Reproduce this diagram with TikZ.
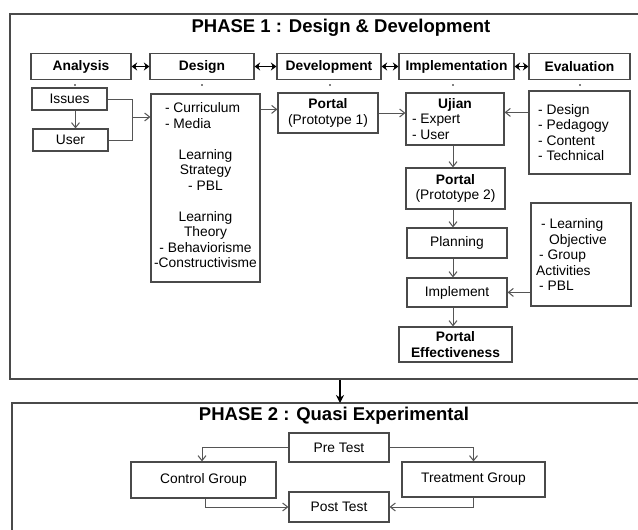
\documentclass[tikz,border=0pt]{standalone}
\usepackage{fontspec}
\setmainfont{Liberation Sans}
\usetikzlibrary{arrows.meta}
\definecolor{ln}{HTML}{4A4A4A}
\definecolor{ar}{HTML}{555555}
\tikzset{
  box/.style={draw=ln, line width=1.2pt, inner sep=0pt, align=center,
    font=\fontsize{13.8}{15.5}\selectfont},
  bbox/.style={box, font=\fontsize{13.8}{15.5}\selectfont\bfseries},
  txt/.style={inner sep=0pt, font=\fontsize{13.8}{15.5}\selectfont},
  frame/.style={draw=ln, line width=1.6pt},
  arr/.style={draw=ar, line width=1pt, -{Straight Barb[length=5pt,width=8pt]}},
  plain/.style={draw=ar, line width=1pt},
  dbl/.style={draw=black, line width=1.8pt, {Stealth[length=5.5pt,width=8pt]}-{Stealth[length=5.5pt,width=8pt]}},
  bigarr/.style={draw=black, line width=1.8pt, -{Stealth[length=8pt,width=8pt]}},
  ttl/.style={inner sep=0pt, font=\fontsize{18.5}{22}\selectfont\bfseries},
  dotm/.style={fill=black, inner sep=0pt, minimum size=1.6pt, circle},
}
\begin{document}
\begin{tikzpicture}[x=1pt,y=-1pt]
\useasboundingbox (0,0) rectangle (638,530);
\clip (0,0) rectangle (638,530);
\fill[white] (0,0) rectangle (638,530);

% frames
\coordinate (f1a) at (645,14);
\coordinate (f1b) at (10,14);
\coordinate (f1c) at (10,379);
\coordinate (f1d) at (645,379);
\draw[frame] (f1a) -- (f1b) -- (f1c) -- (f1d);
\coordinate (f2a) at (645,403);
\coordinate (f2b) at (12,403);
\coordinate (f2c) at (12,540);
\draw[frame] (f2a) -- (f2b) -- (f2c);

\node[ttl] (t1) at (341,28) {PHASE 1 : Design \& Development};
\node[ttl] (t2) at (334,416) {PHASE 2 : Quasi Experimental};

% top row
\node[bbox, minimum width=100pt, minimum height=26pt] (ana) at (81,66.5) {Analysis};
\node[bbox, minimum width=104pt, minimum height=26pt] (des) at (202,66.5) {Design};
\node[bbox, minimum width=104pt, minimum height=26pt] (dev) at (329,66.5) {Development};
\node[bbox, minimum width=115pt, minimum height=26pt] (imp) at (456.5,66.5) {Implementation};
\node[bbox, minimum width=101pt, minimum height=26pt] (eva) at (579.5,66.5) {Evaluation};
\draw[dbl] (ana.east) -- (des.west);
\draw[dbl] (des.east) -- (dev.west);
\draw[dbl] (dev.east) -- (imp.west);
\draw[dbl] (imp.east) -- (eva.west);

\node[dotm] (d1) at (75,85) {};
\node[dotm] (d2) at (202,85) {};
\node[dotm] (d3) at (330,85) {};
\node[dotm] (d4) at (453,85) {};
\node[dotm] (d5) at (580,85) {};

% analysis column
\node[box, minimum width=75pt, minimum height=22pt] (iss) at (69.5,99) {Issues};
\node[box, minimum width=75pt, minimum height=22pt] (usr) at (70.5,140) {User};
\draw[arr] ([xshift=6pt]iss.south) -- ([xshift=5pt]usr.north);
\draw[plain] (iss.east) -- ++(25,0) |- (usr.east);
\coordinate (bm) at (132,117);

% design list
\node[box, minimum width=109pt, minimum height=188pt] (dlist) at (205.5,188) {};
\node[txt, align=center] (dtxt) at (205.5,185.5) {\makebox[81pt][l]{- Curriculum}\\\makebox[81pt][l]{- Media}\\[15.5pt]Learning\\Strategy\\- PBL\\[15.5pt]Learning\\Theory\\- Behaviorisme\\-Constructivisme};
\draw[arr] (bm) -- (bm -| dlist.west);

% development
\node[box, minimum width=100pt, minimum height=40pt] (p1) at (328,113) {\textbf{Portal}\\(Prototype 1)};
\coordinate (dl1) at ([yshift=-16pt]dlist.north east);
\draw[arr] (dl1) -- (dl1 -| p1.west);

% implementation column
\node[box, minimum width=98pt, minimum height=52pt] (uji) at (455,119) {\textbf{Ujian}\\\makebox[86pt][l]{- Expert}\\\makebox[86pt][l]{- User}};
\draw[arr] (p1.east) -- (p1.east -| uji.west);
\node[box, minimum width=99pt, minimum height=41pt] (p2) at (455.5,188.5) {\textbf{Portal}\\(Prototype 2)};
\node[box, minimum width=100pt, minimum height=30pt] (plan) at (457,243) {Planning};
\node[box, minimum width=100pt, minimum height=29pt] (impl) at (457,292.5) {Implement};
\node[bbox, minimum width=113pt, minimum height=35pt] (eff) at (455.5,344.5) {Portal\\Effectiveness};
\coordinate (vx) at (453,0);
\draw[arr] (uji.south -| vx) -- (p2.north -| vx);
\draw[arr] (p2.south -| vx) -- (plan.north -| vx);
\draw[arr] (plan.south -| vx) -- (impl.north -| vx);
\draw[arr] (impl.south -| vx) -- (eff.north -| vx);

% evaluation list
\node[box, minimum width=101pt, minimum height=83pt] (elist) at (579.5,132.5) {};
\node[txt, align=left, anchor=west] (etxt) at (538,132.5) {- Design\\- Pedagogy\\- Content\\- Technical};
\coordinate (e1) at ([yshift=-22pt]elist.north west);
\draw[arr] (e1) -- (e1 -| uji.east);

% learning list
\node[box, minimum width=100pt, minimum height=103pt] (llist) at (581,254.5) {};
\node[txt, align=left, anchor=west] (ltxt) at (536,254.5) {\hspace*{5pt}- Learning\\\hspace*{13pt}Objective\\\hspace*{3pt}- Group\\Activities\\\hspace*{3pt}- PBL};
\coordinate (l1) at ([yshift=-90pt]llist.north west);
\draw[arr] (l1) -- (l1 -| impl.east);

% phase link
\coordinate (pb) at (340,380);
\coordinate (pt) at (340,403);
\draw[bigarr] (pb) -- (pt);

% phase 2
\node[box, minimum width=100pt, minimum height=29pt] (pre) at (339,447.5) {Pre Test};
\node[box, minimum width=145pt, minimum height=36pt] (ctl) at (203.5,480) {Control Group};
\node[box, minimum width=143pt, minimum height=35pt] (trt) at (473.5,479.5) {Treatment Group};
\node[box, minimum width=100pt, minimum height=30pt] (post) at (339,507) {Post Test};
\draw[arr] (pre.west) -| ([xshift=-1.5pt]ctl.north);
\draw[arr] (pre.east) -| (trt.north);
\draw[arr] ([xshift=1.5pt]ctl.south) |- (post.west);
\draw[arr] (trt.south) |- (post.east);
\end{tikzpicture}
\end{document}
